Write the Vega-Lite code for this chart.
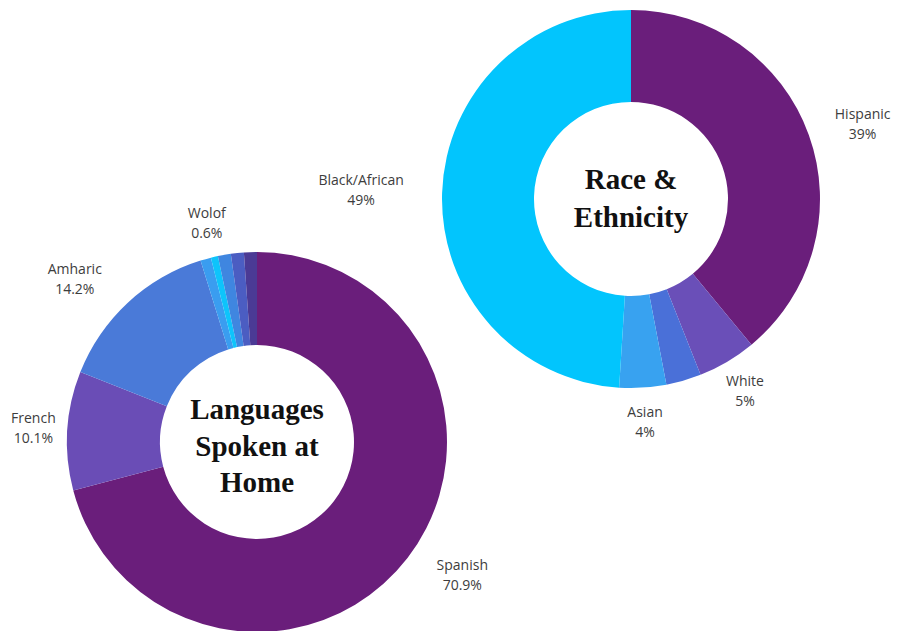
{
  "$schema": "https://vega.github.io/schema/vega-lite/v6.json",
  "width": 905,
  "height": 631,
  "autosize": "none",
  "padding": 0,
  "background": "white",
  "config": {"view": {"stroke": null}, "text": {"font": "Open Sans", "fontSize": 14, "color": "#3d3d3d", "lineBreak": "\n", "lineHeight": 20, "align": "center", "baseline": "middle"}},
  "datasets": {
    "slices": [
      {"chart": "Languages", "name": "Spanish", "value": 70.9, "order": 1, "label": "Spanish\n70.9%"},
      {"chart": "Languages", "name": "French", "value": 10.1, "order": 2, "label": "French\n10.1%"},
      {"chart": "Languages", "name": "Amharic", "value": 14.2, "order": 3, "label": "Amharic\n14.2%"},
      {"chart": "Languages", "name": "Other language 1", "value": 0.9, "order": 4, "label": ""},
      {"chart": "Languages", "name": "Wolof", "value": 0.6, "order": 5, "label": "Wolof\n0.6%"},
      {"chart": "Languages", "name": "Other language 2", "value": 1.1, "order": 6, "label": ""},
      {"chart": "Languages", "name": "Other language 3", "value": 1.1, "order": 7, "label": ""},
      {"chart": "Languages", "name": "Other language 4", "value": 1.1, "order": 8, "label": ""},
      {"chart": "Race", "name": "Hispanic", "value": 39, "order": 1, "label": "Hispanic\n39%"},
      {"chart": "Race", "name": "White", "value": 5, "order": 2, "label": "White\n5%"},
      {"chart": "Race", "name": "Other race", "value": 3, "order": 3, "label": ""},
      {"chart": "Race", "name": "Asian", "value": 4, "order": 4, "label": "Asian\n4%"},
      {"chart": "Race", "name": "Black/African", "value": 49, "order": 5, "label": "Black/African\n49%"}
    ],
    "titles": [
      {"chart": "Languages", "title": "Languages\nSpoken at\nHome"},
      {"chart": "Race", "title": "Race &\nEthnicity"}
    ]
  },
  "encoding": {
    "x": {"field": "chart", "type": "nominal", "axis": null, "scale": {"type": "point", "padding": 0, "domain": ["Languages", "Race"], "range": [257, 631]}},
    "y": {"field": "chart", "type": "nominal", "axis": null, "scale": {"type": "point", "padding": 0, "domain": ["Languages", "Race"], "range": [442, 199]}}
  },
  "layer": [
    {
      "data": {"name": "slices"},
      "transform": [{"filter": "datum.chart === 'Languages'"}],
      "encoding": {
        "theta": {"field": "value", "type": "quantitative", "stack": true, "scale": {"domain": [0, 100]}},
        "order": {"field": "order", "type": "quantitative"},
        "detail": {"field": "name", "type": "nominal"}
      },
      "layer": [
        {
          "mark": {"type": "arc", "outerRadius": 190, "innerRadius": 97, "stroke": null},
          "encoding": {
            "color": {"field": "name", "type": "nominal", "legend": null,
              "scale": {
                "domain": ["Spanish", "French", "Amharic", "Other language 1", "Wolof", "Other language 2", "Other language 3", "Other language 4", "Hispanic", "White", "Other race", "Asian", "Black/African"],
                "range": ["#6a1e7b", "#6a4db6", "#4a7ad8", "#3a9df0", "#0ec4fb", "#3f86e0", "#4b5dc2", "#4b3a95", "#6a1e7b", "#6a4fb8", "#4a70d8", "#38a2f0", "#02c5fd"]
              }}
          }
        },
        {
          "mark": {"type": "text", "radius": 224, "dy": -10},
          "encoding": {"text": {"condition": {"test": "indexof(['French','Wolof'], datum.name) >= 0", "field": "label"}, "value": ""}}
        },
        {
          "mark": {"type": "text", "radius": 244, "dx": 12, "dy": -25},
          "encoding": {"text": {"condition": {"test": "datum.name === 'Spanish'", "field": "label"}, "value": ""}}
        },
        {
          "mark": {"type": "text", "radius": 243, "dx": -17, "dy": 6},
          "encoding": {"text": {"condition": {"test": "datum.name === 'Amharic'", "field": "label"}, "value": ""}}
        }
      ]
    },
    {
      "data": {"name": "slices"},
      "transform": [{"filter": "datum.chart === 'Race'"}],
      "encoding": {
        "theta": {"field": "value", "type": "quantitative", "stack": true, "scale": {"domain": [0, 100]}},
        "order": {"field": "order", "type": "quantitative"},
        "detail": {"field": "name", "type": "nominal"}
      },
      "layer": [
        {
          "mark": {"type": "arc", "outerRadius": 189, "innerRadius": 97, "stroke": null},
          "encoding": {
            "color": {"field": "name", "type": "nominal", "legend": null}
          }
        },
        {
          "mark": {"type": "text", "radius": 224, "dy": -10},
          "encoding": {"text": {"condition": {"test": "indexof(['White','Asian'], datum.name) >= 0", "field": "label"}, "value": ""}}
        },
        {
          "mark": {"type": "text", "radius": 243, "dx": 3, "dy": -2},
          "encoding": {"text": {"condition": {"test": "datum.name === 'Hispanic'", "field": "label"}, "value": ""}}
        },
        {
          "mark": {"type": "text", "radius": 270, "dy": -10},
          "encoding": {"text": {"condition": {"test": "datum.name === 'Black/African'", "field": "label"}, "value": ""}}
        }
      ]
    },
    {
      "data": {"name": "titles"},
      "transform": [{"filter": "datum.chart === 'Languages'"}],
      "mark": {"type": "text", "font": "Liberation Serif", "fontWeight": "bold", "fontSize": 29, "color": "#111111", "lineHeight": 36.5, "dy": -32},
      "encoding": {"text": {"field": "title"}}
    },
    {
      "data": {"name": "titles"},
      "transform": [{"filter": "datum.chart === 'Race'"}],
      "mark": {"type": "text", "font": "Liberation Serif", "fontWeight": "bold", "fontSize": 29, "color": "#111111", "lineHeight": 38, "dy": -19},
      "encoding": {"text": {"field": "title"}}
    }
  ]
}
